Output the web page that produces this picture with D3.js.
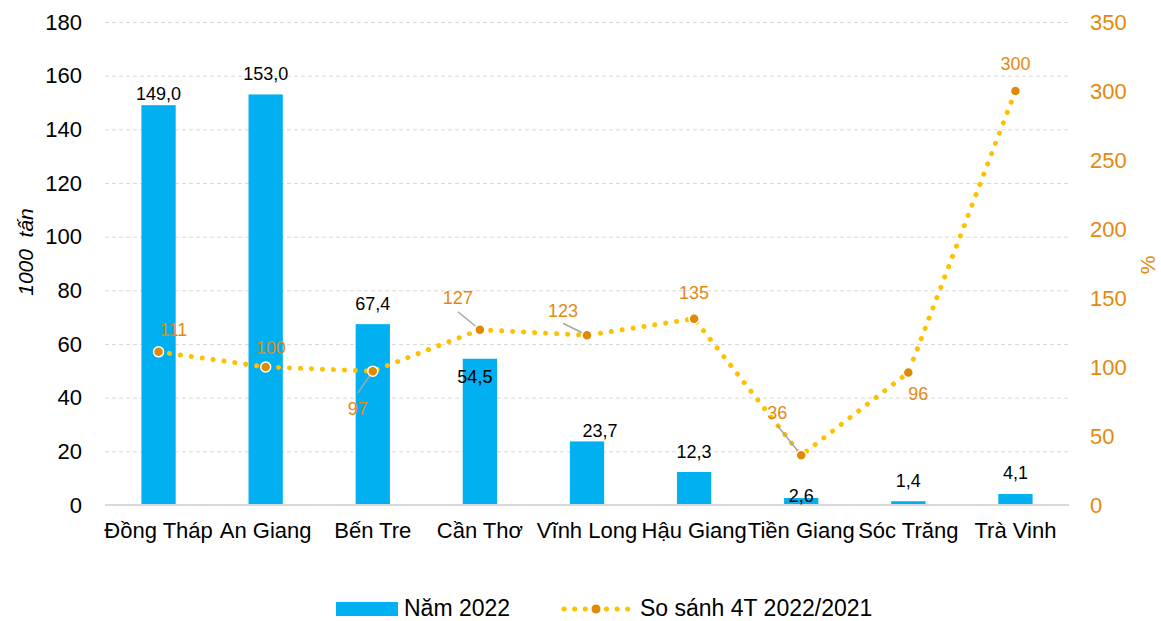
<!DOCTYPE html>
<html>
<head>
<meta charset="utf-8">
<script src="https://cdn.jsdelivr.net/npm/d3@7"></script>
<style>
  html, body { margin: 0; padding: 0; background: #fff; }
  svg { display: block; font-family: "Liberation Sans", Arial, sans-serif; }
</style>
</head>
<body>
<svg id="chart" width="1161" height="621"></svg>
<script>
// ---- data ----
const categories = ["Đồng Tháp", "An Giang", "Bến Tre", "Cần Thơ", "Vĩnh Long", "Hậu Giang", "Tiền Giang", "Sóc Trăng", "Trà Vinh"];
const barValues = [149.0, 153.0, 67.4, 54.5, 23.7, 12.3, 2.6, 1.4, 4.1];
const lineValues = [111, 100, 97, 127, 123, 135, 36, 96, 300];
const leftTicks = [0, 20, 40, 60, 80, 100, 120, 140, 160, 180];
const rightTicks = [0, 50, 100, 150, 200, 250, 300, 350];
const barSeriesName = "Năm 2022";
const lineSeriesName = "So sánh 4T 2022/2021";
const leftTitle = "1000  tấn";
const rightTitle = "%";

// ---- label layout (offsets in px, relative to mark) ----
const barLabelOffset = [[0,-12],[0,-21],[0,-21],[-5,18],[13,-11],[0,-20],[0,-3],[0,-21],[0,-21]];
const lineLabelOffset = [[15,-22],[5,-19],[-15,37],[-22,-32],[-24,-25],[0,-26],[-24,-43],[10,21],[0,-27]];
const leaderFrom = [null,null,-15,14,13,null,13,null,null]; // y offset from label centre where leader starts

// ---- styles ----
const barColor = "#00B0F0";
const lineColor = "#FFC000";
const markerColor = "#DF8A00";
const orangeText = "#E4890F";
const gridColor = "#D9D9D9";
const fontFamily = "Liberation Sans, Arial, sans-serif";

const svg = d3.select("#chart");
const plot = {left: 105, right: 1069, top: 22, bottom: 505};

const x = d3.scaleBand().domain(categories).range([plot.left, plot.right]).paddingInner(0.68).paddingOuter(0.34);
const yL = d3.scaleLinear().domain([0, 180]).range([plot.bottom, plot.top]);
const yR = d3.scaleLinear().domain([0, 350]).range([plot.bottom, plot.top]);
const cx = d => x(d) + x.bandwidth() / 2;

// gridlines
const gridG = svg.append("g")
  .attr("transform", `translate(${plot.left},0)`)
  .call(d3.axisLeft(yL).tickValues(leftTicks.filter(t => t > 0)).tickSize(-(plot.right - plot.left)).tickFormat(""));
gridG.select(".domain").remove();
gridG.selectAll("line").attr("stroke", gridColor).attr("stroke-width", 1).attr("stroke-dasharray", "4,3");

// left axis labels
const leftAxis = svg.append("g")
  .attr("transform", `translate(${plot.left},0)`)
  .call(d3.axisLeft(yL).tickValues(leftTicks).tickSize(0).tickPadding(23).tickFormat(d3.format("d")));
leftAxis.select(".domain").remove();
leftAxis.selectAll("text").attr("fill", "#000").style("font-size", "22px").style("font-family", fontFamily);

// right axis labels
const rightAxis = svg.append("g")
  .attr("transform", `translate(${plot.right},0)`)
  .call(d3.axisRight(yR).tickValues(rightTicks).tickSize(0).tickPadding(21).tickFormat(d3.format("d")));
rightAxis.select(".domain").remove();
rightAxis.selectAll("text").attr("fill", orangeText).style("font-size", "22px").style("font-family", fontFamily);

// bars
svg.append("g").selectAll("rect").data(barValues).join("rect")
  .attr("x", (d, i) => x(categories[i]))
  .attr("y", d => yL(d))
  .attr("width", x.bandwidth())
  .attr("height", d => yL(0) - yL(d))
  .attr("fill", barColor);

// baseline
svg.append("line").attr("x1", plot.left).attr("x2", plot.right).attr("y1", plot.bottom).attr("y2", plot.bottom)
  .attr("stroke", gridColor).attr("stroke-width", 2);

// x axis labels
const xAxis = svg.append("g").attr("transform", `translate(0,${plot.bottom})`)
  .call(d3.axisBottom(x).tickSize(0).tickPadding(17));
xAxis.select(".domain").remove();
xAxis.selectAll("text").attr("fill", "#000").style("font-size", "22px").style("font-family", fontFamily);

// bar labels
svg.append("g").selectAll("text").data(barValues).join("text")
  .attr("x", (d, i) => cx(categories[i]) + barLabelOffset[i][0])
  .attr("y", (d, i) => yL(d) + barLabelOffset[i][1])
  .attr("text-anchor", "middle").attr("dy", "0.36em")
  .style("font-size", "18px").attr("fill", "#000")
  .text(d => d3.format(".1f")(d).replace(".", ","));

// line
const line = d3.line().x((d, i) => cx(categories[i])).y(d => yR(d));
svg.append("path").datum(lineValues).attr("d", line)
  .attr("fill", "none").attr("stroke", lineColor).attr("stroke-width", 5)
  .attr("stroke-linecap", "round").attr("stroke-dasharray", "0.1,10.9");

// leader lines
svg.append("g").selectAll("line").data(lineValues.map((v, i) => ({v, i})).filter(o => leaderFrom[o.i] !== null)).join("line")
  .attr("x1", o => cx(categories[o.i]) + lineLabelOffset[o.i][0])
  .attr("y1", o => yR(o.v) + lineLabelOffset[o.i][1] + leaderFrom[o.i])
  .attr("x2", o => cx(categories[o.i]))
  .attr("y2", o => yR(o.v))
  .attr("stroke", "#A6A6A6").attr("stroke-width", 1.5);

// markers
svg.append("g").selectAll("circle").data(lineValues).join("circle")
  .attr("cx", (d, i) => cx(categories[i]))
  .attr("cy", d => yR(d))
  .attr("r", 5)
  .attr("fill", markerColor).attr("stroke", "#fff").attr("stroke-width", 1.5);

// line labels
svg.append("g").selectAll("text").data(lineValues).join("text")
  .attr("x", (d, i) => cx(categories[i]) + lineLabelOffset[i][0])
  .attr("y", (d, i) => yR(d) + lineLabelOffset[i][1])
  .attr("text-anchor", "middle").attr("dy", "0.36em")
  .style("font-size", "18px").attr("fill", orangeText)
  .text(d => d);

// axis titles
svg.append("text").attr("transform", "translate(25,252) rotate(-90)")
  .attr("text-anchor", "middle").attr("dy", "0.36em")
  .style("font-size", "21px").style("font-style", "italic").attr("fill", "#000")
  .attr("xml:space", "preserve").style("white-space", "pre")
  .text(leftTitle);
svg.append("text").attr("transform", "translate(1147,265) rotate(-90)")
  .attr("text-anchor", "middle").attr("dy", "0.36em")
  .style("font-size", "21px").attr("fill", orangeText)
  .text(rightTitle);

// legend
const lg = svg.append("g");
lg.append("rect").attr("x", 336).attr("y", 602).attr("width", 62).attr("height", 14).attr("fill", barColor);
lg.append("text").attr("x", 404).attr("y", 608).attr("dy", "0.36em").style("font-size", "23px").attr("fill", "#000").text(barSeriesName);
lg.append("line").attr("x1", 564).attr("x2", 628).attr("y1", 609).attr("y2", 609)
  .attr("stroke", lineColor).attr("stroke-width", 5).attr("stroke-linecap", "round").attr("stroke-dasharray", "0.1,10.5");
lg.append("circle").attr("cx", 596).attr("cy", 609).attr("r", 5).attr("fill", markerColor).attr("stroke", "#fff").attr("stroke-width", 1);
lg.append("text").attr("x", 640).attr("y", 608).attr("dy", "0.36em").style("font-size", "23px").attr("fill", "#000").text(lineSeriesName);
</script>
</body>
</html>
